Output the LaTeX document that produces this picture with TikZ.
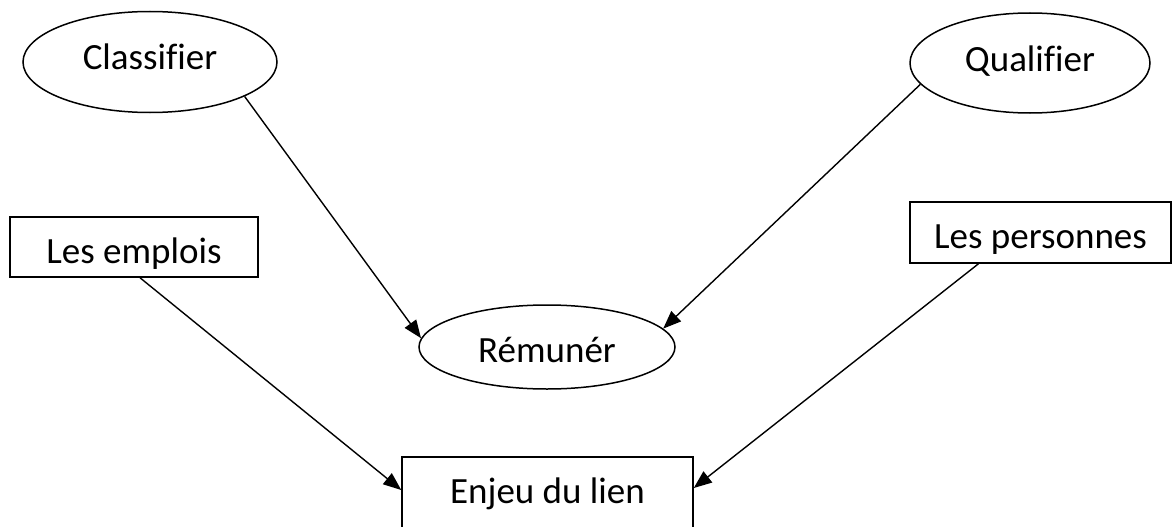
\documentclass[tikz,border=0pt]{standalone}
\usepackage{fontspec}
\setmainfont{Carlito}[Ligatures=NoCommon]
\usetikzlibrary{shapes.geometric,arrows.meta}
\begin{document}
\begin{tikzpicture}[x=1pt,y=-1pt,
  every node/.style={font=\fontsize{37}{40}\selectfont, inner sep=0pt, line width=1.5pt},
  oval/.style={draw, ellipse, anchor=base},
  box/.style={draw, rectangle, anchor=base, text height=46pt},
  conn/.style={line width=1.4pt, -{Triangle[length=18pt,width=14pt]}}]
\useasboundingbox (0,0) rectangle (1173,527);
\clip (0,0) rectangle (1173,527);
\node[oval, minimum width=254pt, minimum height=101pt, text height=26pt, text depth=10pt] (cls) at (150,70) {Classifier};
\node[oval, minimum width=240pt, minimum height=100pt, text height=28pt, text depth=10pt] (qual) at (1030,72) {Qualifier};
\node[oval, minimum width=256pt, minimum height=84pt, text height=32pt, text depth=2pt] (rem) at (547,362) {Rémunér};
\node[box, minimum width=248pt, text depth=14pt] (emp) at (134,263) {Les emplois};
\node[box, minimum width=261pt, text depth=15pt] (pers) at (1040.5,248) {Les personnes};
\node[box, minimum width=291pt, text depth=30pt] (enj) at (547.5,503) {Enjeu du lien};
\draw[conn] (cls.-20) -- (rem.176);
\draw[conn] (qual.191) -- (rem.9);
\draw[conn] ([xshift=6pt]emp.south) -- ([yshift=5pt]enj.west);
\draw[conn] ([xshift=-62pt]pers.south) -- ([yshift=7pt]enj.east);
\end{tikzpicture}
\end{document}
